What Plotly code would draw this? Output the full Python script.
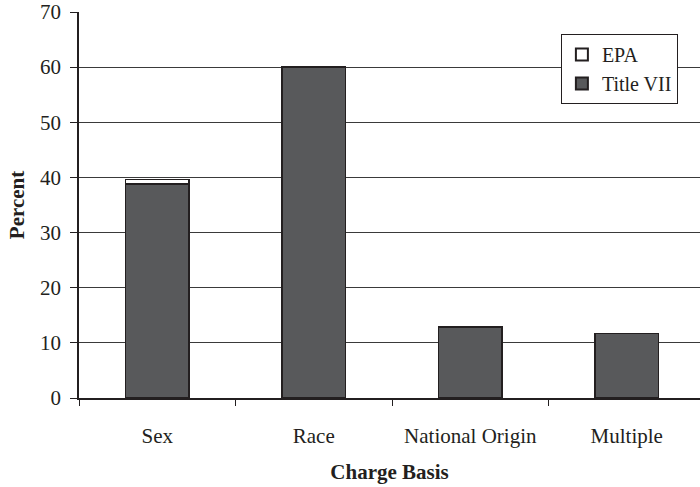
import plotly.graph_objects as go

categories = ["Sex", "Race", "National Origin", "Multiple"]
title_vii = [38.8, 60.0, 12.9, 11.7]
epa = [0.8, 0.0, 0.0, 0.0]
y_ticks = [0, 10, 20, 30, 40, 50, 60, 70]

FONT = "Liberation Serif, Times New Roman, serif"
EDGE = "#231f20"
FS = 21

fig = go.Figure()
fig.add_trace(go.Bar(
    x=categories, y=title_vii, name="Title VII",
    marker=dict(color="#58595b", line=dict(color=EDGE, width=1.6)),
    width=0.405,
))
fig.add_trace(go.Bar(
    x=categories, y=epa, name="EPA",
    marker=dict(color="#ffffff", line=dict(color=EDGE, width=1.6)),
    width=0.405,
))

fig.update_layout(
    width=700, height=487,
    margin=dict(l=79, r=0, t=12, b=89),
    barmode="stack",
    paper_bgcolor="white", plot_bgcolor="white",
    font=dict(family=FONT, size=FS, color="#231f20"),
    showlegend=True,
    legend=dict(
        x=0.776, y=0.943, xanchor="left", yanchor="top",
        bgcolor="white", bordercolor=EDGE, borderwidth=1,
        font=dict(family=FONT, size=20, color="#231f20"),
        traceorder="reversed",
        itemsizing="constant",
        itemwidth=30,
        tracegroupgap=0,
    ),
    xaxis=dict(
        type="category",
        range=[-0.5, 3.468],
        automargin=False,
        showline=True, linecolor=EDGE, linewidth=1.5,
        ticks="outside", ticklen=6, tickcolor=EDGE, tickwidth=1.2,
        tickson="boundaries",
        showgrid=False,
        ticklabelstandoff=18,
        tickfont=dict(family=FONT, size=FS),
        title=dict(text="<b>Charge Basis</b>", font=dict(family=FONT, size=FS), standoff=17),
    ),
    yaxis=dict(
        range=[0, 70],
        tickvals=y_ticks,
        automargin=False,
        showline=True, linecolor=EDGE, linewidth=1.5,
        ticks="outside", ticklen=7, tickcolor=EDGE, tickwidth=1.2,
        showgrid=True, gridcolor="#3a3a3a", gridwidth=1,
        zeroline=False,
        ticklabelstandoff=5,
        tickfont=dict(family=FONT, size=FS),
        title=dict(text="<b>Percent</b>", font=dict(family=FONT, size=FS), standoff=10),
    ),
)

fig.write_html("out.html", config={"displayModeBar": False},
               post_script="document.body.style.margin='0';")
